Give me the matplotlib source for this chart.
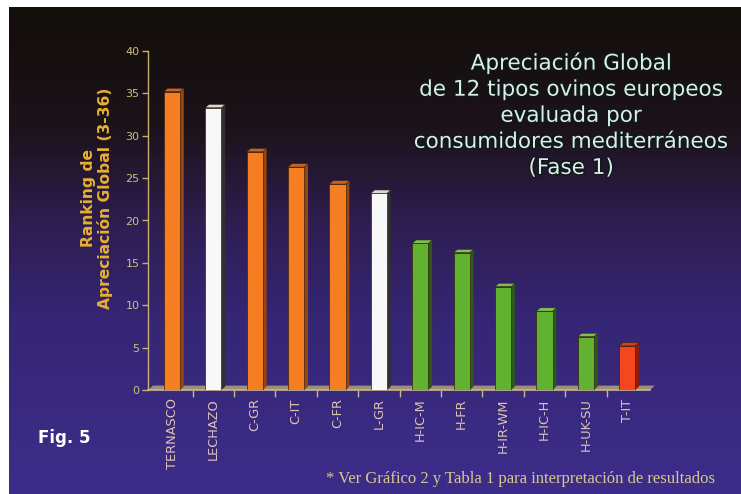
import numpy as np
import matplotlib
matplotlib.use('Agg')
import matplotlib.pyplot as plt
from matplotlib.patches import Polygon
from matplotlib.colors import LinearSegmentedColormap
import matplotlib.patheffects as pe

# data
tipos = ['TERNASCO', 'LECHAZO', 'C-GR', 'C-IT', 'C-FR', 'L-GR',
         'H-IC-M', 'H-FR', 'H-IR-WM', 'H-IC-H', 'H-UK-SU', 'T-IT']
ranking = [35.2, 33.3, 28.1, 26.3, 24.3, 23.2, 17.3, 16.2, 12.2, 9.3, 6.3, 5.2]
grupo = ['o', 'w', 'o', 'o', 'o', 'w', 'g', 'g', 'g', 'g', 'g', 'r']
yticks = [0, 5, 10, 15, 20, 25, 30, 35, 40]

# front / side / top colours per group
colores = {
    'o': ('#f57d22', '#9a4510', '#c86420'),
    'w': ('#f8f8f8', '#303030', '#d8d8d8'),
    'g': ('#62b232', '#2c5a18', '#80c050'),
    'r': ('#f5471e', '#8a2010', '#d04020'),
}

W, H = 741, 494
fig = plt.figure(figsize=(W / 100, H / 100), dpi=100)
fig.patch.set_facecolor('white')

# background gradient panel
bg = fig.add_axes([9 / W, 0, 1 - 9 / W, 487 / H])
cmap = LinearSegmentedColormap.from_list('fondo', [
    (0.0, (60 / 255, 45 / 255, 138 / 255)),
    (0.35, (54 / 255, 38 / 255, 118 / 255)),
    (0.55, (46 / 255, 30 / 255, 82 / 255)),
    (0.75, (28 / 255, 19 / 255, 26 / 255)),
    (1.0, (18 / 255, 14 / 255, 9 / 255)),
])
grad = np.linspace(0, 1, 256).reshape(-1, 1)
bg.imshow(grad, aspect='auto', cmap=cmap, origin='lower', extent=[0, 1, 0, 1])
bg.set_axis_off()

# main chart
ax = fig.add_axes([148 / W, 1 - 390 / H, (650 - 148) / W, (390 - 51) / H])
ax.set_facecolor('none')
xmin, xmax = -0.58, 11.55
ax.set_xlim(xmin, xmax)
ax.set_ylim(0, 40)

bw = 0.39
dx, dy = 0.09, 0.4
x = np.arange(len(tipos))

# floor
ax.add_patch(Polygon([(xmin, 0), (xmax, 0), (xmax + dx * 1.3, dy * 1.3), (xmin + dx * 1.3, dy * 1.3)],
                     closed=True, facecolor='#a09078', edgecolor='none', zorder=1, clip_on=False))

for xi, v, g in zip(x, ranking, grupo):
    front, side, top = colores[g]
    x0 = xi - bw / 2
    ax.bar(xi, v, width=bw, color=front, edgecolor='#3a2010', linewidth=0.5, zorder=3)
    ax.add_patch(Polygon([(x0 + bw, 0), (x0 + bw + dx, dy), (x0 + bw + dx, v + dy), (x0 + bw, v)],
                         closed=True, facecolor=side, edgecolor='none', zorder=2))
    ax.add_patch(Polygon([(x0, v), (x0 + bw, v), (x0 + bw + dx, v + dy), (x0 + dx, v + dy)],
                         closed=True, facecolor=top, edgecolor='#3a2010', linewidth=0.4, zorder=3))

for s in ['top', 'right']:
    ax.spines[s].set_visible(False)
ax.spines['left'].set_color('#c8b070')
ax.spines['bottom'].set_color('#c8b890')
ax.spines['left'].set_linewidth(1.0)
ax.spines['bottom'].set_linewidth(1.2)

ax.set_yticks(yticks)
ax.set_yticklabels([str(t) for t in yticks], fontsize=8, color='#d0c080')
ax.tick_params(axis='y', colors='#c8b070', length=4, width=1, pad=2, labelcolor='#d0c080')

ax.set_xticks(x)
ax.set_xticklabels(tipos, rotation=90, fontsize=9.3, color='#dcc4b4')
ax.tick_params(axis='x', length=0, pad=6)
ax.set_xticks(np.arange(len(tipos) - 1) + 0.5, minor=True)
ax.tick_params(axis='x', which='minor', length=5, color='#c8b890', width=1)

# y label
fig.text(97 / W, 1 - 198 / H, 'Ranking de\nApreciación Global (3-36)', rotation=90,
         ha='center', va='center', fontsize=11.2, fontweight='bold', color='#e8b030',
         linespacing=1.15)

# title
fig.text(571 / W, 1 - 115 / H,
         'Apreciación Global\nde 12 tipos ovinos europeos\nevaluada por\nconsumidores mediterráneos\n(Fase 1)',
         ha='center', va='center', fontsize=15.5, color='#d8f0e8', linespacing=1.38,
         path_effects=[pe.withStroke(linewidth=2, foreground='#10181a')])

fig.text(64 / W, 1 - 438 / H, 'Fig. 5', ha='center', va='center', fontsize=12,
         fontweight='bold', color='white')

fig.text(521 / W, 1 - 479 / H, '* Ver Gráfico 2 y Tabla 1 para interpretación de resultados',
         ha='center', va='center', fontsize=12, color='#d8c890', family='Liberation Serif')

fig.savefig('out.png', dpi=100)
